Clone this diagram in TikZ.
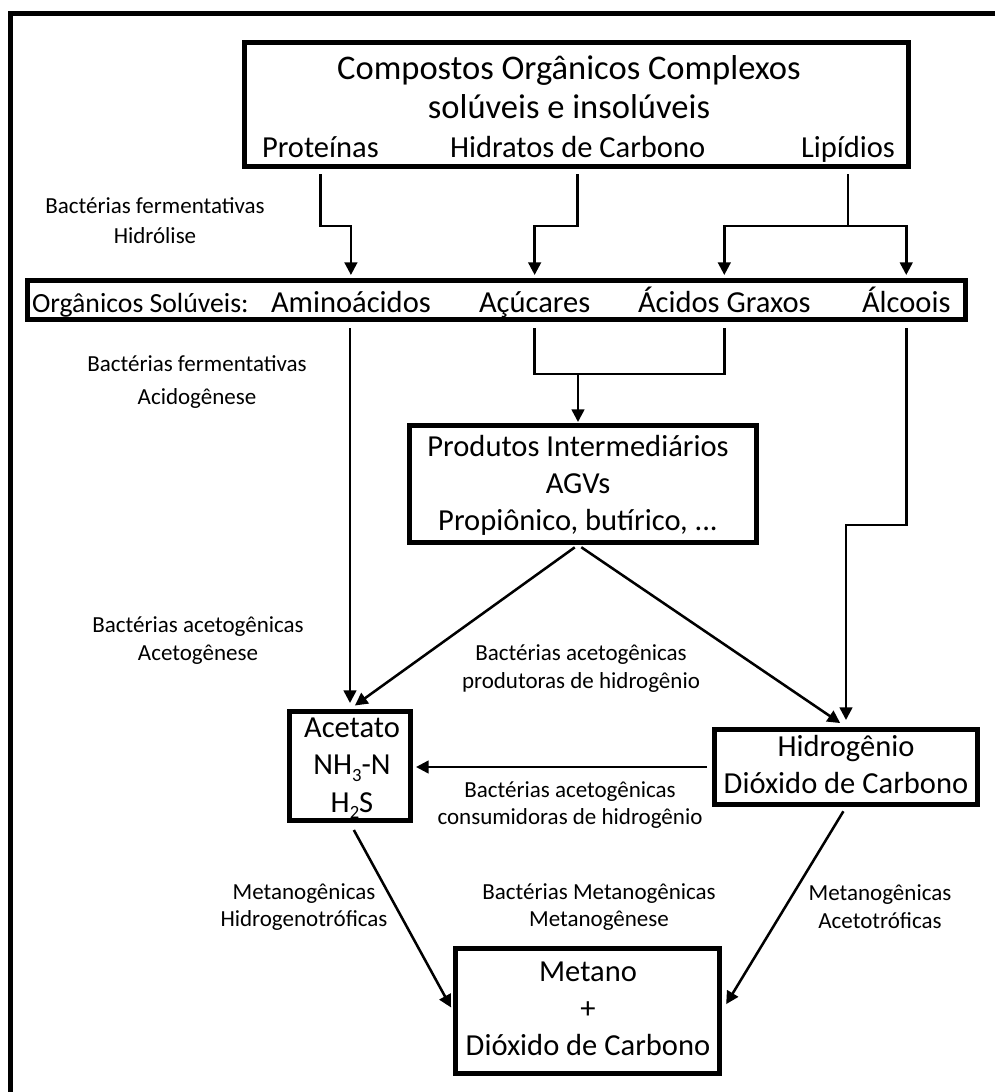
\documentclass[tikz,border=0pt]{standalone}
\usepackage{fontspec}
\setmainfont{Carlito}
\usetikzlibrary{arrows.meta}
\tikzset{
  boxnode/.style={draw, line width=3.75pt, inner sep=0pt, outer sep=1.875pt},
  arr/.style={line width=1.9pt, -{Triangle[length=9.5pt,width=9.5pt]}},
  ln/.style={line width=1.9pt},
  txt/.style={inner sep=0pt, outer sep=0pt, align=center},
  big/.style={txt, font=\fontsize{25.9}{29.25}\selectfont},
  med/.style={txt, font=\fontsize{22.9}{27.6}\selectfont},
  solf/.style={txt, font=\fontsize{20.8}{24}\selectfont},
  small/.style={txt, font=\fontsize{17.25}{21}\selectfont},
}
\newcommand\lowsub[1]{\raisebox{-0.45ex}{\fontsize{14}{14}\selectfont #1}}
\begin{document}
\begin{tikzpicture}[x=0.75pt,y=-0.75pt]
\useasboundingbox (0,0) rectangle (995,1092);
% outer frame (top and left sides only)
\draw[line width=3.75pt] (995,13.2) -- (10.8,13.2) -- (10.8,1092);

% boxes
\node[boxnode, minimum width=498pt, minimum height=93pt] (top) at (576.5,104.5) {};
\node[boxnode, minimum width=703.5pt, minimum height=29.25pt] (sol) at (496.5,300) {};
\node[boxnode, minimum width=260.25pt, minimum height=87.75pt] (prod) at (583,484) {};
\node[boxnode, minimum width=90.75pt, minimum height=81.75pt] (acet) at (350,766) {};
\node[boxnode, minimum width=197.25pt, minimum height=56.25pt] (hyd) at (846,767) {};
\node[boxnode, minimum width=198pt, minimum height=93.75pt] (met) at (587.5,1011) {};

% texts in top box (anchor=base is the baseline of the last line)
\node[big, anchor=base] (toptxt) at (569,118) {Compostos Orgânicos Complexos\\solúveis e insolúveis};
\node[med, anchor=base west] (prot) at (262,157) {Proteínas};
\node[med, anchor=base west] (hidr) at (450,157) {Hidratos de Carbono};
\node[med, anchor=base west] (lip) at (801,157) {Lipídios};

% texts in soluble box
\node[solf, anchor=base west] (soltxt) at (32,312) {Orgânicos Solúveis:};
\node[med, anchor=base west] (amino) at (271,312) {Aminoácidos};
\node[med, anchor=base west] (acuc) at (479,312) {Açúcares};
\node[med, anchor=base west] (acgr) at (638,312) {Ácidos Graxos};
\node[med, anchor=base west] (alc) at (862,312) {Álcoois};

% texts in other boxes
\node[med, anchor=base, font=\fontsize{22.9}{27.4}\selectfont] (ptxt) at (578,530) {Produtos Intermediários\\AGVs\\Propiônico, butírico, ...};
\node[med, anchor=base, font=\fontsize{22.9}{28.1}\selectfont] (atxt) at (352,812) {Acetato\\NH\lowsub{3}-N\\H\lowsub{2}S};
\node[med, anchor=base, font=\fontsize{22.9}{27.75}\selectfont] (htxt) at (846,793) {Hidrogênio\\Dióxido de Carbono};
\node[med, anchor=base, font=\fontsize{22.9}{27.4}\selectfont] (mtxt) at (588,1055) {Metano\\+\\Dióxido de Carbono};

% process labels
\node[small, anchor=base, font=\fontsize{17.25}{22.5}\selectfont] (l1) at (155,243) {Bactérias fermentativas\\Hidrólise};
\node[small, anchor=base, font=\fontsize{17.25}{24.75}\selectfont] (l2) at (197,404) {Bactérias fermentativas\\Acidogênese};
\node[small, anchor=base] (l3) at (198,660) {Bactérias acetogênicas\\Acetogênese};
\node[small, anchor=base] (l4) at (581,688) {Bactérias acetogênicas\\produtoras de hidrogênio};
\node[small, anchor=base, font=\fontsize{17.25}{20.25}\selectfont] (l5) at (570,824) {Bactérias acetogênicas\\consumidoras de hidrogênio};
\node[small, anchor=base, font=\fontsize{17.25}{20.25}\selectfont] (l6) at (304,926) {Metanogênicas\\Hidrogenotróficas};
\node[small, anchor=base, font=\fontsize{17.25}{20.25}\selectfont] (l7) at (599,926) {Bactérias Metanogênicas\\Metanogênese};
\node[small, anchor=base, font=\fontsize{17.25}{21}\selectfont] (l8) at (880,928) {Metanogênicas\\Acetotróficas};

% connectors: hydrolysis
\draw[arr, shorten <=3.75pt, shorten >=2.25pt] (top.south -| prot) -- ++(0,57) -| (sol.north -| amino);
\draw[arr, shorten <=3.75pt, shorten >=2.25pt] (top.south -| hidr) -- ++(0,57) -| (sol.north -| acuc);
\draw[ln, shorten <=3.75pt] (top.south -| lip) -- ++(0,57) coordinate (lj);
\draw[arr, shorten >=2.25pt] (lj) -| (sol.north -| acgr);
\draw[arr, shorten >=2.25pt] (lj) -| (sol.north -| alc);

% acidogenesis
\draw[arr, shorten <=4.5pt, shorten >=4.5pt] (sol.south -| acet) -- (acet.north);
\draw[ln] (sol.south -| acuc) ++(0,6) -- ++(0,46) coordinate (mj) -- (mj -| acgr) -- ([yshift=-4.5pt]sol.south -| acgr);
\draw[arr, shorten >=0.75pt] (mj -| ptxt) -- (prod.north -| ptxt);
\draw[arr, shorten <=4.5pt, shorten >=5.25pt] (sol.south -| alc) -- ++(0,203) -| (hyd.north);

% acetogenesis
\draw[arr, shorten <=3pt, shorten >=4.5pt] (prod.south -| ptxt) -- (acet.north);
\draw[arr, shorten <=3pt, shorten >=5.25pt] (prod.south -| ptxt) -- (hyd.north);
\draw[arr, shorten <=3.75pt, shorten >=2.25pt] (hyd.west) -- (acet.east |- hyd.west);

% methanogenesis
\draw[arr, shorten <=6pt, shorten >=3pt] (acet.south) -- (met.west);
\draw[arr, shorten <=3.75pt, shorten >=6pt] (hyd.south) -- (met.east);
\end{tikzpicture}
\end{document}
